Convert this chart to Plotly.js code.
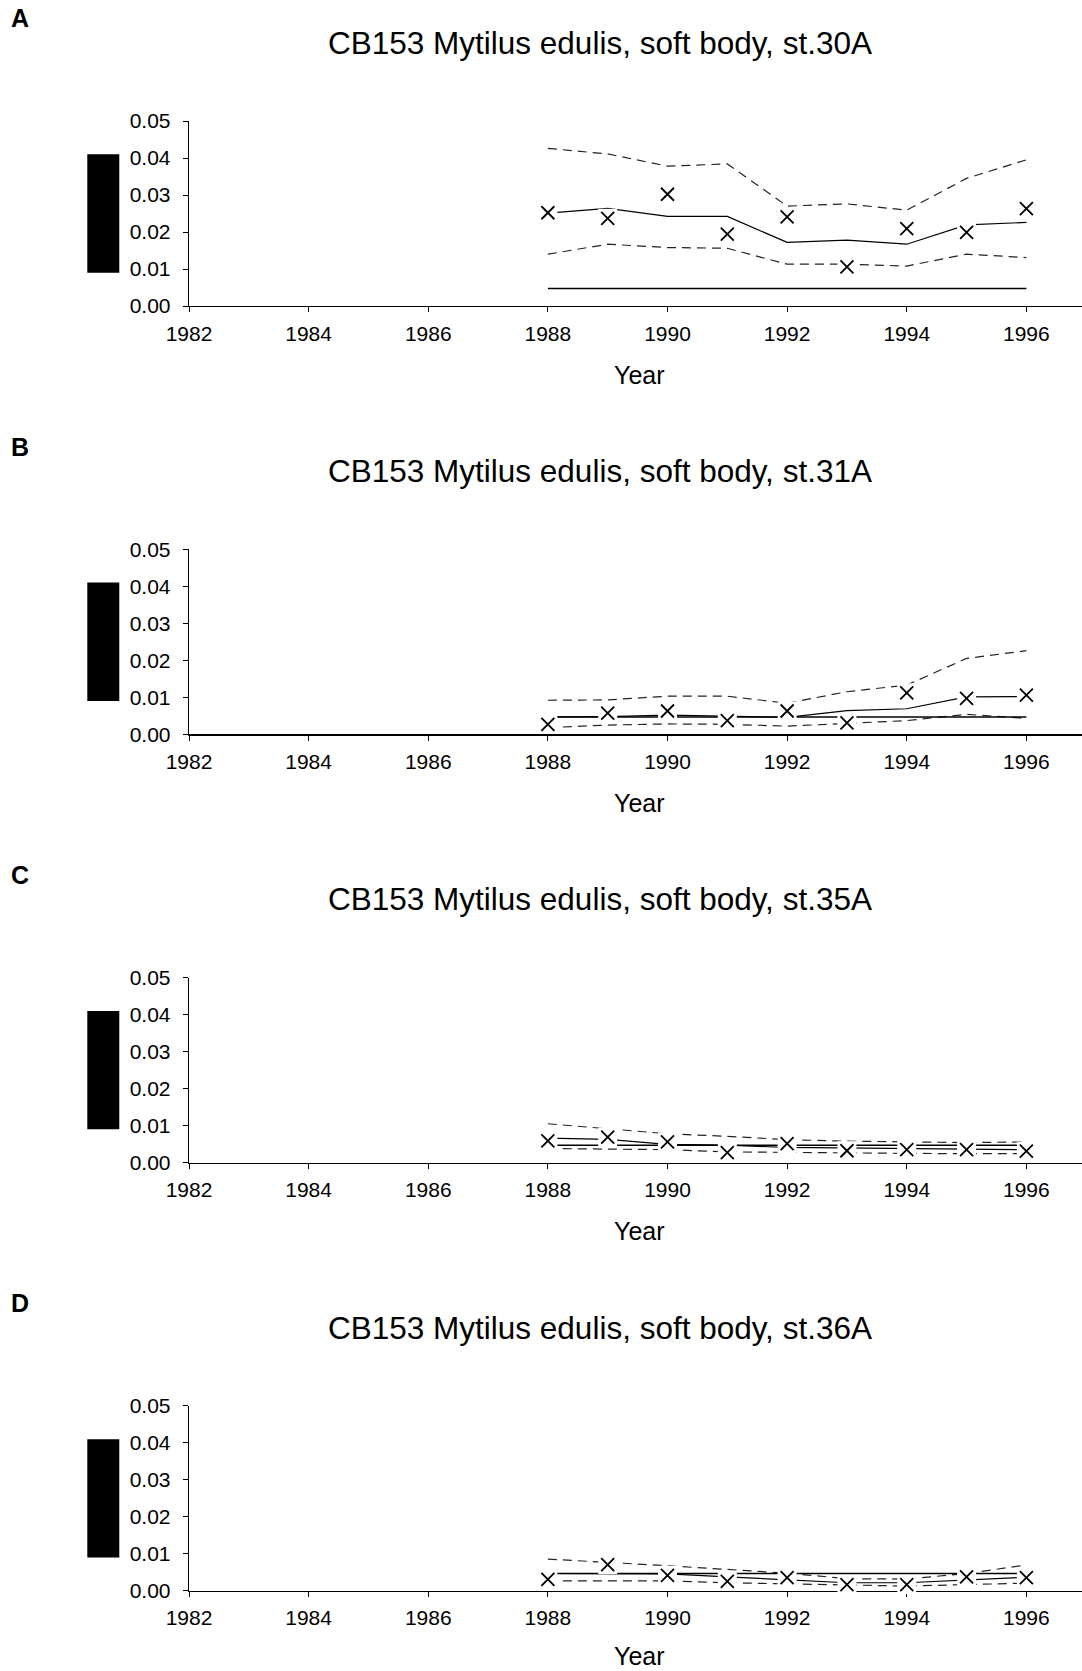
<!DOCTYPE html>
<html>
<head>
<meta charset="utf-8">
<script src="https://cdn.plot.ly/plotly-3.0.1.min.js"></script>
<style>
html, body { margin: 0; padding: 0; background: #fff; }
#chart { width: 1082px; height: 1671px; }
</style>
</head>
<body>
<div id="chart"></div>
<script>
// ---------------- DATA ----------------
const years = [1988, 1989, 1990, 1991, 1992, 1993, 1994, 1995, 1996];
const refYears = [1988, 1996];

const panelLetters = ["A", "B", "C", "D"];
const panelTitles = [
  "CB153 Mytilus edulis, soft body, st.30A",
  "CB153 Mytilus edulis, soft body, st.31A",
  "CB153 Mytilus edulis, soft body, st.35A",
  "CB153 Mytilus edulis, soft body, st.36A"
];
const xAxisTitle = "Year";
const xTickVals = [1982, 1984, 1986, 1988, 1990, 1992, 1994, 1996];
const yTickVals = [0.00, 0.01, 0.02, 0.03, 0.04, 0.05];

// Panel A (st.30A)
const obsA    = [0.0252, 0.0237, 0.0302, 0.0194, 0.0241, 0.0106, 0.0209, 0.0199, 0.0263];
const trendA  = [0.0251, 0.0264, 0.0242, 0.0242, 0.0172, 0.0178, 0.0167, 0.0219, 0.0226];
const upperA  = [0.0426, 0.0411, 0.0378, 0.0384, 0.0270, 0.0276, 0.0259, 0.0345, 0.0395];
const lowerA  = [0.0140, 0.0167, 0.0158, 0.0156, 0.0113, 0.0113, 0.0108, 0.0140, 0.0131];
const refA    = [0.0047, 0.0047];

// Panel B (st.31A)
const obsB    = [0.0027, 0.0057, 0.0063, 0.0037, 0.0063, 0.0031, 0.0112, 0.0097, 0.0106];
const trendB  = [0.0047, 0.0048, 0.0052, 0.0050, 0.0046, 0.0064, 0.0069, 0.0101, 0.0102];
const upperB  = [0.0092, 0.0093, 0.0103, 0.0103, 0.0084, 0.0115, 0.0133, 0.0205, 0.0226];
const lowerB  = [0.0018, 0.0025, 0.0028, 0.0027, 0.0022, 0.0030, 0.0037, 0.0054, 0.0043];
const refB    = [0.0047, 0.0047];

// Panel C (st.35A)
const obsC    = [0.0059, 0.0069, 0.0056, 0.0027, 0.0051, 0.0032, 0.0035, 0.0035, 0.0031];
const trendC  = [0.0066, 0.0063, 0.0049, 0.0047, 0.0041, 0.0040, 0.0038, 0.0036, 0.0035];
const upperC  = [0.0105, 0.0092, 0.0078, 0.0071, 0.0062, 0.0058, 0.0055, 0.0054, 0.0056];
const lowerC  = [0.0038, 0.0036, 0.0035, 0.0029, 0.0027, 0.0027, 0.0025, 0.0024, 0.0024];
const refC    = [0.0047, 0.0047];

// Panel D (st.36A)
const obsD    = [0.0031, 0.0071, 0.0042, 0.0026, 0.0036, 0.0017, 0.0017, 0.0038, 0.0036];
const trendD  = [0.0047, 0.0047, 0.0046, 0.0038, 0.0031, 0.0022, 0.0022, 0.0030, 0.0037];
const upperD  = [0.0086, 0.0078, 0.0068, 0.0058, 0.0048, 0.0033, 0.0032, 0.0047, 0.0070];
const lowerD  = [0.0027, 0.0027, 0.0027, 0.0022, 0.0019, 0.0015, 0.0013, 0.0017, 0.0021];
const refD    = [0.0047, 0.0047];

const panels = [
  {obs: obsA, trend: trendA, upper: upperA, lower: lowerA, ref: refA},
  {obs: obsB, trend: trendB, upper: upperB, lower: lowerB, ref: refB},
  {obs: obsC, trend: trendC, upper: upperC, lower: lowerC, ref: refC},
  {obs: obsD, trend: trendD, upper: upperD, lower: lowerD, ref: refD}
];

// ---------------- LAYOUT GEOMETRY ----------------
const W = 1082, H = 1671;
const FONT = "Liberation Sans, Arial, Helvetica, sans-serif";
const plotLeft = 189;
const panelStep = 428.3;
const plotTop0 = 121, plotBot0 = 306;
const xRange = [1982, 1996.93];
const yRange = [0, 0.05];

const data = [];
const layout = {
  width: W, height: H,
  margin: {l: 0, r: 0, t: 0, b: 0, pad: 0},
  paper_bgcolor: "#ffffff",
  plot_bgcolor: "rgba(0,0,0,0)",
  showlegend: false,
  font: {family: FONT, color: "#000", size: 21},
  annotations: [],
  shapes: []
};

panels.forEach((p, i) => {
  const n = i + 1;
  const off = panelStep * i;
  const top = plotTop0 + off, bot = plotBot0 + off;
  const yDom = [1 - bot / H, 1 - top / H];
  const xDom = [plotLeft / W, 1];
  const xa = "x" + (n === 1 ? "" : n), ya = "y" + (n === 1 ? "" : n);
  const xKey = "xaxis" + (n === 1 ? "" : n), yKey = "yaxis" + (n === 1 ? "" : n);
  const xo = 4 + n, yo = 4 + n;

  layout[xKey] = {
    domain: xDom, anchor: ya, range: xRange, tickvals: xTickVals,
    ticktext: xTickVals.map(String),
    showgrid: false, zeroline: false, showline: true, linecolor: "#000", linewidth: 1.3,
    ticks: "outside", ticklen: 5, tickwidth: 1, tickcolor: "#000",
    tickfont: {family: FONT, size: 21, color: "#000"},
    ticklabelstandoff: 3,
    layer: "below traces", fixedrange: true
  };
  layout[yKey] = {
    domain: yDom, anchor: xa, range: yRange, tickvals: yTickVals,
    ticktext: yTickVals.map(v => v.toFixed(2)),
    showgrid: false, zeroline: false, showline: true, linecolor: "#000", linewidth: 1.3,
    ticks: "outside", ticklen: 5, tickwidth: 1, tickcolor: "#000",
    tickfont: {family: FONT, size: 21, color: "#000"},
    ticklabelstandoff: 8,
    layer: "below traces", fixedrange: true
  };
  layout["xaxis" + xo] = {
    domain: xDom, anchor: ya, overlaying: xa, range: xRange, tickvals: xTickVals,
    showticklabels: false, showgrid: false, zeroline: false, showline: false,
    ticks: "inside", ticklen: 5, tickwidth: 1, tickcolor: "#000", side: "bottom",
    layer: "below traces", fixedrange: true
  };
  layout["yaxis" + yo] = {
    domain: yDom, anchor: xa, overlaying: ya, range: yRange, tickvals: yTickVals,
    showticklabels: false, showgrid: false, zeroline: false, showline: false,
    ticks: "inside", ticklen: 5, tickwidth: 1, tickcolor: "#000", side: "left",
    layer: "below traces", fixedrange: true
  };

  const dashStyle = {color: "#222", width: 1.2, dash: "9px,6px"};
  data.push({x: years, y: p.upper, xaxis: xa, yaxis: ya, type: "scatter", mode: "lines",
             line: dashStyle, hoverinfo: "skip"});
  data.push({x: years, y: p.lower, xaxis: xa, yaxis: ya, type: "scatter", mode: "lines",
             line: dashStyle, hoverinfo: "skip"});
  data.push({x: refYears, y: p.ref, xaxis: xa, yaxis: ya, type: "scatter", mode: "lines",
             line: {color: "#000", width: 1.5}, hoverinfo: "skip"});
  data.push({x: years, y: p.trend, xaxis: xa, yaxis: ya, type: "scatter", mode: "lines",
             line: {color: "#000", width: 1.2}, hoverinfo: "skip"});
  data.push({x: years, y: p.obs, xaxis: xa, yaxis: ya, type: "scatter", mode: "markers",
             marker: {symbol: "square", size: 19, color: "#ffffff", line: {width: 0}},
             cliponaxis: false, hoverinfo: "skip"});
  data.push({x: years, y: p.obs, xaxis: xa, yaxis: ya, type: "scatter", mode: "markers",
             marker: {symbol: "x-thin-open", size: 13, color: "#000", line: {width: 1.8, color: "#000"}},
             cliponaxis: false, hoverinfo: "skip"});

  layout.annotations.push({xref: "paper", yref: "paper", x: 19.6 / W, y: 1 - (18.3 + off) / H,
    xanchor: "center", yanchor: "middle", showarrow: false, text: "<b>" + panelLetters[i] + "</b>",
    font: {family: FONT, size: 25, color: "#000"}});
  layout.annotations.push({xref: "paper", yref: "paper", x: 600 / W, y: 1 - (42.8 + off) / H,
    xanchor: "center", yanchor: "middle", showarrow: false, text: panelTitles[i],
    font: {family: FONT, size: 31.5, color: "#000"}});
  // keep the last "Year" fully inside the page
  const yearY = Math.min(374.5 + off, H - 15.5);
  layout.annotations.push({xref: "paper", yref: "paper", x: 639 / W, y: 1 - yearY / H,
    xanchor: "center", yanchor: "middle", showarrow: false, text: xAxisTitle,
    borderpad: 0,
    font: {family: FONT, size: 25, color: "#000"}});
  layout.shapes.push({type: "rect", xref: "paper", yref: "paper",
    x0: 87.3 / W, x1: 119.3 / W, y0: 1 - (272.7 + off) / H, y1: 1 - (154.3 + off) / H,
    fillcolor: "#000", line: {width: 0}});
});

Plotly.newPlot("chart", data, layout, {staticPlot: true, displayModeBar: false});
</script>
</body>
</html>
